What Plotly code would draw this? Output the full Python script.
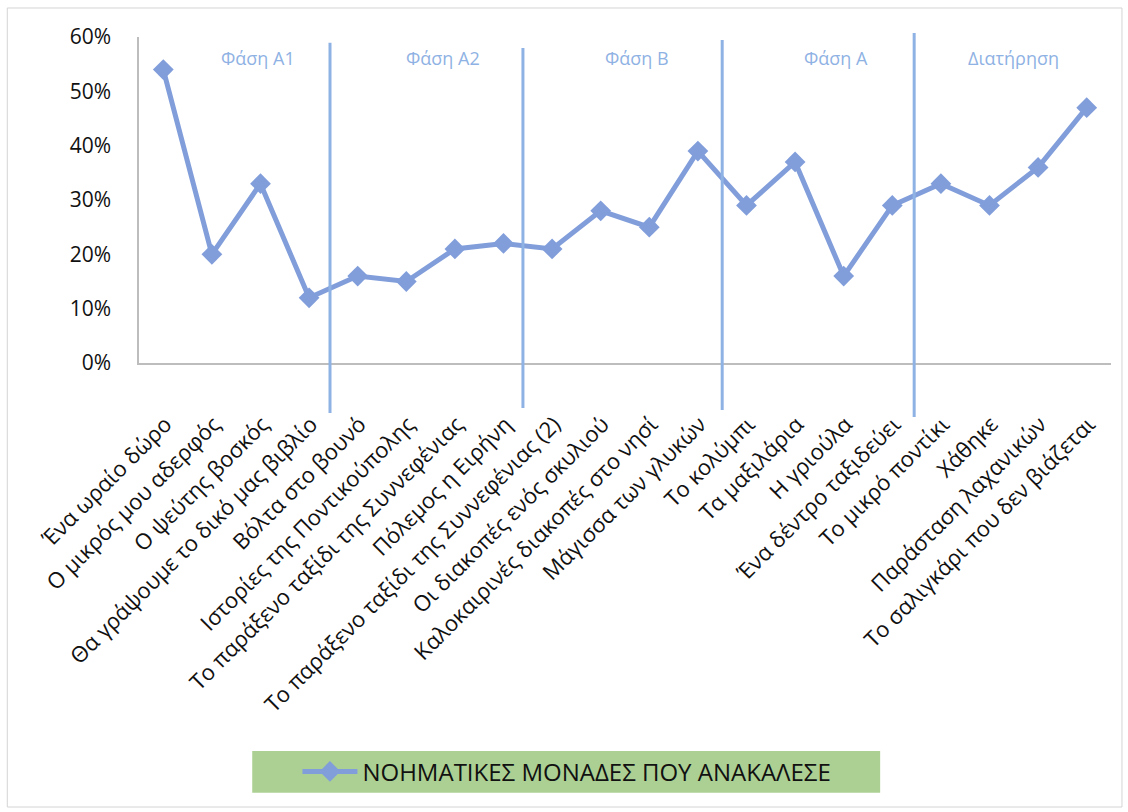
import plotly.graph_objects as go

# Stories (x categories) and share of idea units recalled per story
stories = [
    "Ένα ωραίο δώρο",
    "Ο μικρός μου αδερφός",
    "Ο ψεύτης βοσκός",
    "Θα γράψουμε το δικό μας βιβλίο",
    "Βόλτα στο βουνό",
    "Ιστορίες της Ποντικούπολης",
    "Το παράξενο ταξίδι της Συννεφένιας",
    "Πόλεμος η Ειρήνη",
    "Το παράξενο ταξίδι της Συννεφένιας (2)",
    "Οι διακοπές ενός σκυλιού",
    "Καλοκαιρινές διακοπές στο νησί",
    "Μάγισσα των γλυκών",
    "Το κολύμπι",
    "Τα μαξιλάρια",
    "Η γριούλα",
    "Ένα δέντρο ταξιδεύει",
    "Το μικρό ποντίκι",
    "Χάθηκε",
    "Παράσταση λαχανικών",
    "Το σαλιγκάρι που δεν βιάζεται",
]
recalled = [0.54, 0.20, 0.33, 0.12, 0.16, 0.15, 0.21, 0.22, 0.21, 0.28,
            0.25, 0.39, 0.29, 0.37, 0.16, 0.29, 0.33, 0.29, 0.36, 0.47]
series_name = "ΝΟΗΜΑΤΙΚΕΣ ΜΟΝΑΔΕΣ ΠΟΥ ΑΝΑΚΑΛΕΣΕ"

# Phase names and their label centres (in category units)
phase_names = ["Φάση Α1", "Φάση Α2", "Φάση Β", "Φάση Α", "Διατήρηση"]
phase_centers = [1.95, 5.75, 9.75, 13.85, 17.5]
# Phase separators (category units), with top / bottom in paper units
divider_x = [3.43, 7.40, 11.50, 15.45]
divider_top = [0.982, 0.966, 0.991, 1.012]
divider_bottom = [-0.153, -0.138, -0.144, -0.166]

FONT = "Open Sans"
LINE_BLUE = "#819edb"
PHASE_BLUE = "#8fb2e4"
N = len(stories)


def to_paper(xc):
    # category axis spans [-0.5, N-0.5]
    return (xc + 0.5) / N


fig = go.Figure()
fig.add_trace(go.Scatter(
    x=stories, y=recalled, name=series_name,
    mode="lines+markers",
    line=dict(color=LINE_BLUE, width=5),
    marker=dict(symbol="diamond", size=16, color=LINE_BLUE),
    showlegend=True,
))

shapes = []
# outer chart border
shapes.append(dict(type="rect", xref="paper", yref="paper",
                   x0=-0.1355, x1=1.0113, y0=-1.362, y1=1.089,
                   line=dict(color="#d4d4d4", width=1), fillcolor="rgba(0,0,0,0)",
                   layer="below"))
# green legend panel
shapes.append(dict(type="rect", xref="paper", yref="paper",
                   x0=0.1165, x1=0.7625, y0=-1.318, y1=-1.190,
                   line=dict(width=0), fillcolor="#acd093", layer="below"))
for xd, yt, yb in zip(divider_x, divider_top, divider_bottom):
    xp = to_paper(xd)
    shapes.append(dict(type="line", xref="paper", yref="paper",
                       x0=xp, x1=xp, y0=yb, y1=yt,
                       line=dict(color=PHASE_BLUE, width=3), layer="above"))

annotations = []
for name, xc in zip(phase_names, phase_centers):
    annotations.append(dict(
        x=to_paper(xc), y=0.937, xref="paper", yref="paper",
        text=name, showarrow=False,
        font=dict(family=FONT, size=18, color=PHASE_BLUE),
        xanchor="center", yanchor="middle",
    ))

fig.update_layout(
    width=1128, height=812,
    margin=dict(l=139, r=17, t=37, b=449),
    paper_bgcolor="white", plot_bgcolor="white",
    font=dict(family=FONT, size=18, color="#111111"),
    shapes=shapes,
    annotations=annotations,
    showlegend=True,
    legend=dict(
        orientation="h", x=0.163, y=-1.254, xanchor="left", yanchor="middle",
        bgcolor="rgba(0,0,0,0)", font=dict(family=FONT, size=24, color="#111111"),
        itemwidth=55,
    ),
    xaxis=dict(
        type="category", range=[-0.5, N - 0.5],
        tickangle=-45, showgrid=False, zeroline=False,
        showline=True, linecolor="#bdbdbd", linewidth=1.5,
        ticks="", ticklabelstandoff=38, ticklabelshift=2,
        tickfont=dict(family=FONT, size=22, color="#111111"),
    ),
    yaxis=dict(
        range=[0, 0.6], dtick=0.1, tickformat=".0%",
        showgrid=False, zeroline=False,
        showline=True, linecolor="#bdbdbd", linewidth=1.5,
        ticks="", ticklabelstandoff=22,
        tickfont=dict(family=FONT, size=21, color="#111111"),
    ),
)

fig.write_html("out.html")
